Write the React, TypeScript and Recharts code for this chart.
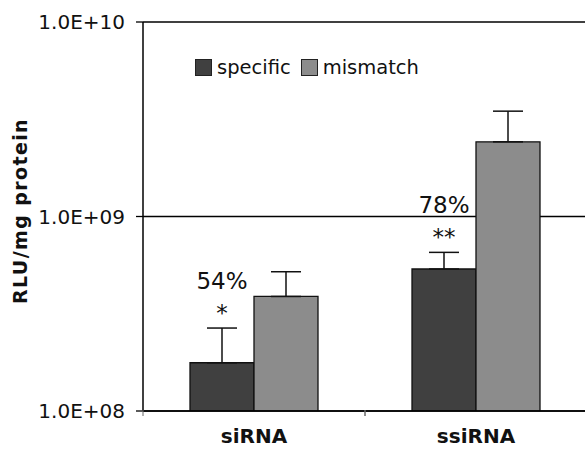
import { BarChart, Bar, XAxis, YAxis, CartesianGrid, ErrorBar, LabelList, Legend } from "recharts";

const categories = ["siRNA", "ssiRNA"];
const specific = [1.77e8, 5.37e8];
const specificErr = [0.9e8, 1.17e8];
const mismatch = [3.88e8, 2.42e9];
const mismatchErr = [1.32e8, 1.06e9];
const percentLabels = ["54%", "78%"];
const starLabels = ["*", "**"];
const yTicks = [1e8, 1e9, 1e10];
const yDomain: [number, number] = [1e8, 1e10];

const data = categories.map((c, i) => ({
  category: c,
  specific: specific[i],
  specificErr: [0, specificErr[i]],
  mismatch: mismatch[i],
  mismatchErr: [0, mismatchErr[i]],
}));

if (typeof document !== "undefined") document.body.style.margin = "0";

const FONT = "DejaVu Sans, Verdana, sans-serif";
const DARK = "#404040";
const LIGHT = "#8c8c8c";

const fmt = (v: number) => {
  const e = Math.round(Math.log10(v));
  return `1.0E+${String(e).padStart(2, "0")}`;
};

function SigLabel(props: any) {
  const { x, y, width, height, index } = props;
  const v = specific[index];
  const top = v + specificErr[index];
  const k = height / Math.log10(v / yDomain[0]);
  const yErr = y - k * Math.log10(top / v);
  const cx = x + width / 2;
  return (
    <g fontFamily={FONT} fill="#111">
      <text x={cx} y={yErr - 47} textAnchor="middle" dominantBaseline="central" fontSize={23}>
        {percentLabels[index]}
      </text>
      <text x={cx} y={yErr - 15} textAnchor="middle" dominantBaseline="central" fontSize={23}>
        {starLabels[index]}
      </text>
    </g>
  );
}

function LegendBox() {
  const items = [
    { name: "specific", color: DARK },
    { name: "mismatch", color: LIGHT },
  ];
  return (
    <div style={{ display: "flex", alignItems: "center", fontFamily: FONT, fontSize: 19.5, color: "#111" }}>
      {items.map((it) => (
        <div key={it.name} style={{ display: "flex", alignItems: "center", marginRight: 10 }}>
          <span
            style={{
              display: "inline-block",
              width: 15,
              height: 15,
              background: it.color,
              border: "1px solid #222",
              marginRight: 5,
            }}
          />
          <span>{it.name}</span>
        </div>
      ))}
    </div>
  );
}

function CatTick(props: any) {
  const { x, y, payload } = props;
  return (
    <g>
      <line x1={x - 111} x2={x - 111} y1={y - 19} y2={y - 13} stroke="#666" />
      <line x1={x + 111} x2={x + 111} y1={y - 19} y2={y - 13} stroke="#666" />
      <text x={x} y={y} dy="0.71em" textAnchor="middle" fontFamily={FONT} fontWeight="bold" fontSize={20} fill="#111">
        {payload.value}
      </text>
    </g>
  );
}

export default function App() {
  return (
    <div style={{ width: 585, height: 449, overflow: "hidden", background: "#fff" }}>
      <BarChart
        width={600}
        height={449}
        data={data}
        margin={{ top: 22, right: 13, left: 0, bottom: 0 }}
        barGap={0}
        barSize={64}
      >
        <CartesianGrid horizontal vertical={false} stroke="#000" strokeWidth={1.3} />
        <XAxis
          dataKey="category"
          height={38}
          axisLine={{ stroke: "#000", strokeWidth: 1.5 }}
          tickLine={false}
          tickSize={0}
          tickMargin={18}
          tick={<CatTick />}
          interval={0}
        />
        <YAxis
          scale="log"
          domain={yDomain}
          allowDataOverflow
          ticks={yTicks}
          tickFormatter={fmt}
          width={143}
          axisLine={{ stroke: "#000", strokeWidth: 1.5 }}
          tickLine={{ stroke: "#000", strokeWidth: 1.3 }}
          tickSize={7}
          tickMargin={11}
          tick={{ fontFamily: FONT, fontSize: 20, fill: "#111" }}
          label={{
            content: () => (
              <text
                x={20}
                y={211}
                transform="rotate(-90 20 211)"
                textAnchor="middle"
                dominantBaseline="central"
                fontFamily={FONT}
                fontWeight="bold"
                fontSize={19}
                letterSpacing={1.4}
                fill="#111"
              >
                RLU/mg protein
              </text>
            ),
          }}
        />
        <Legend
          layout="horizontal"
          verticalAlign="middle"
          align="center"
          content={<LegendBox />}
          wrapperStyle={{ position: "absolute", top: 56, left: 195, width: "auto" }}
        />
        <Bar dataKey="specific" fill={DARK} stroke="#111" strokeWidth={1.3} isAnimationActive={false}>
          <ErrorBar dataKey="specificErr" width={15} stroke="#111" strokeWidth={1.5} />
          <LabelList dataKey="specific" content={<SigLabel />} />
        </Bar>
        <Bar dataKey="mismatch" fill={LIGHT} stroke="#111" strokeWidth={1.3} isAnimationActive={false}>
          <ErrorBar dataKey="mismatchErr" width={15} stroke="#111" strokeWidth={1.5} />
        </Bar>
      </BarChart>
    </div>
  );
}
